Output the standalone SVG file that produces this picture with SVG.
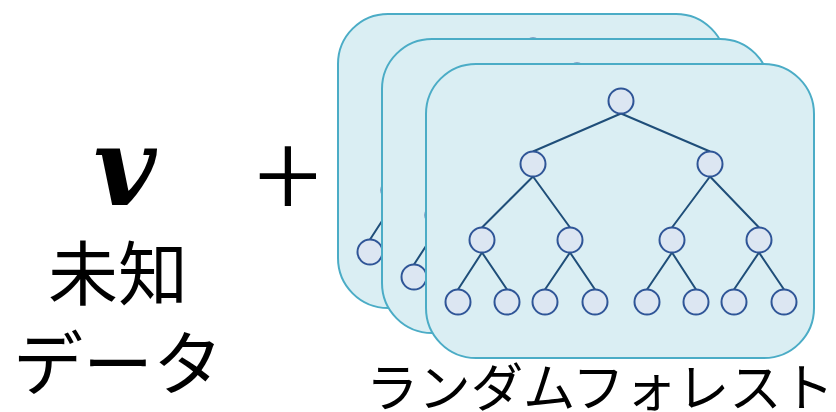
<svg xmlns="http://www.w3.org/2000/svg" xmlns:xlink="http://www.w3.org/1999/xlink" width="836" height="412" viewBox="0 0 836 412">
  <style>
    .card { fill: #DAEEF3; stroke: #4BACC6; stroke-width: 2; }
    .edge { stroke: #1F4E79; stroke-width: 2; fill: none; }
    .node { fill: #DCE6F2; stroke: #2F5597; stroke-width: 2; }
    .jp { font-family: "Noto Sans CJK JP", "Noto Sans", sans-serif; fill: #000; }
  </style>
  <defs>
    <!-- one decision tree on its card (coordinates of the front card) -->
    <g id="treeCard">
      <rect class="card" x="426" y="64" width="388" height="294" rx="50" ry="50"/>
      <g class="edges">
        <path class="edge" d="M621 113.5L533 151.5M621 113.5L710 151.5
          M533 176.5L482 227.5M533 176.5L570 227.5M710 176.5L672 227.5M710 176.5L759 227.5
          M482 252.5L458 289.5M482 252.5L507 289.5M570 252.5L545 289.5M570 252.5L595 289.5
          M672 252.5L647 289.5M672 252.5L696 289.5M759 252.5L734 289.5M759 252.5L784 289.5"/>
      </g>
      <g class="nodes">
        <circle class="node" cx="621" cy="101" r="12.5"/>
        <circle class="node" cx="533" cy="164" r="12.5"/>
        <circle class="node" cx="710" cy="164" r="12.5"/>
        <circle class="node" cx="482" cy="240" r="12.5"/>
        <circle class="node" cx="570" cy="240" r="12.5"/>
        <circle class="node" cx="672" cy="240" r="12.5"/>
        <circle class="node" cx="759" cy="240" r="12.5"/>
        <circle class="node" cx="458" cy="302" r="12.5"/>
        <circle class="node" cx="507" cy="302" r="12.5"/>
        <circle class="node" cx="545" cy="302" r="12.5"/>
        <circle class="node" cx="595" cy="302" r="12.5"/>
        <circle class="node" cx="647" cy="302" r="12.5"/>
        <circle class="node" cx="696" cy="302" r="12.5"/>
        <circle class="node" cx="734" cy="302" r="12.5"/>
        <circle class="node" cx="784" cy="302" r="12.5"/>
      </g>
    </g>
  </defs>

  <!-- unknown data v -->
  <g id="data">
    <text x="125" y="205" text-anchor="middle" font-family="DejaVu Serif, serif" font-weight="bold" font-style="italic" font-size="108">v</text>
    <text class="jp" x="118" y="300" text-anchor="middle" font-size="70">未知</text>
    <text class="jp" x="118" y="390" text-anchor="middle" font-size="70">データ</text>
  </g>

  <g id="plus">
    <text class="jp" x="288" y="221" text-anchor="middle" font-size="122" font-weight="300">+</text>
  </g>

  <!-- random forest: three stacked trees -->
  <g id="tree3" transform="translate(-88,-50)"><use xlink:href="#treeCard"/></g>
  <g id="tree2" transform="translate(-44,-25)"><use xlink:href="#treeCard"/></g>
  <g id="tree1"><use xlink:href="#treeCard"/></g>

  <g id="forestLabel">
    <text class="jp" x="366" y="407" font-size="52" textLength="468" lengthAdjust="spacingAndGlyphs">ランダムフォレスト</text>
  </g>

  <g id="connectors"></g>
</svg>
